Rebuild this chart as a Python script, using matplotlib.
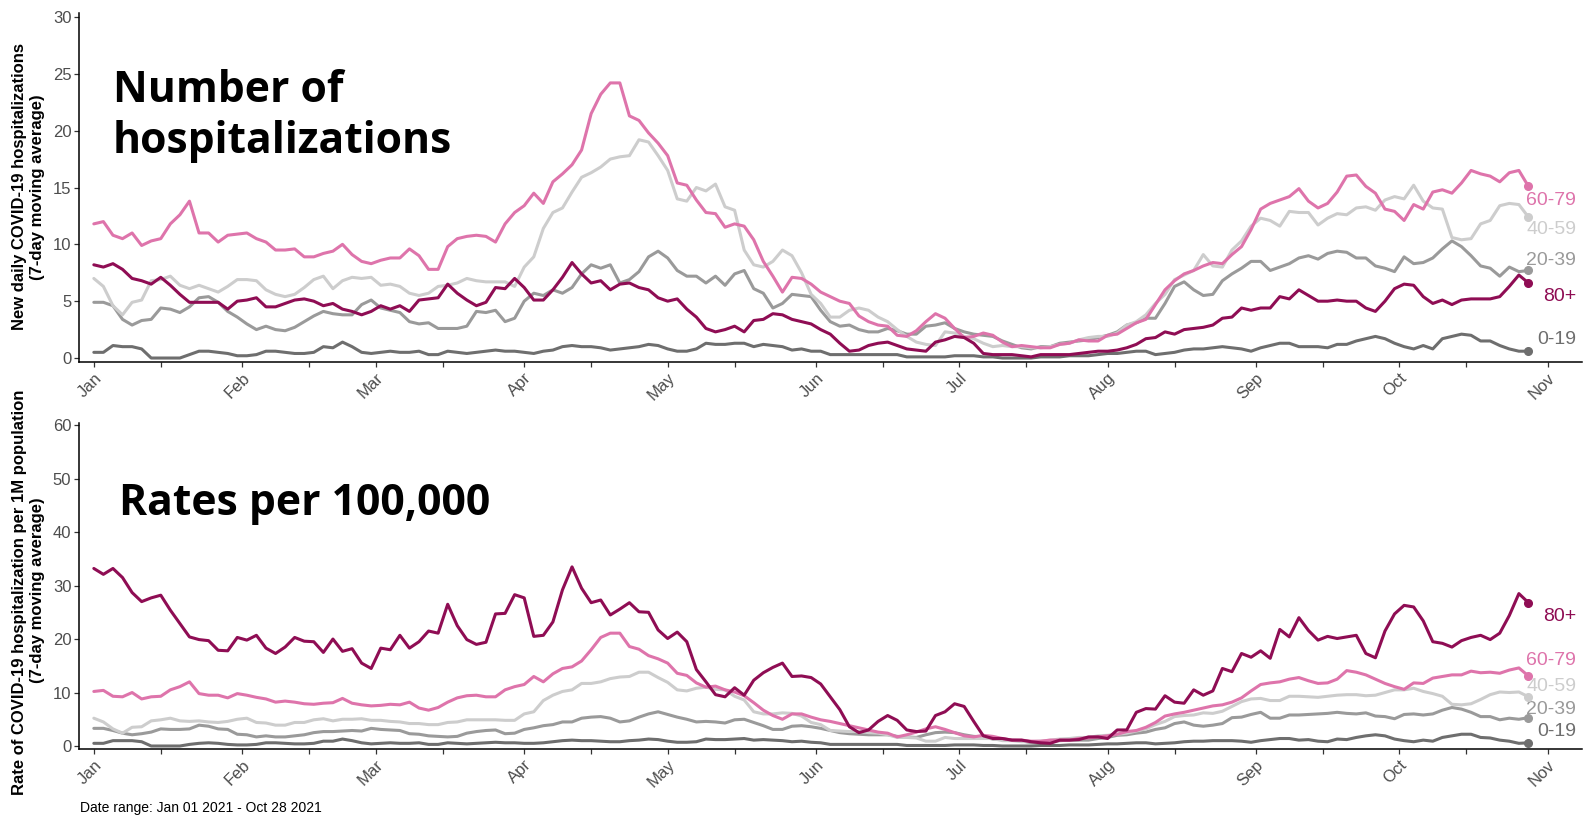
import matplotlib
matplotlib.use("Agg")
import matplotlib.pyplot as plt
import matplotlib.dates as mdates
import numpy as np
import pandas as pd
from datetime import datetime

# ---------------- data (every 2nd day, Jan 01 - Oct 28 2021) ----------------
dates = pd.date_range("2021-01-01", "2021-10-28", freq="2D")
groups = ["0-19", "20-39", "40-59", "60-79", "80+"]

# New daily hospitalizations (7-day moving average)
top_0_19 = [0.5, 0.5, 1.1, 1.0, 1.0, 0.8, 0.0, 0.0, 0.0, 0.0,
            0.3, 0.6, 0.6, 0.5, 0.4, 0.2, 0.2, 0.3, 0.6, 0.6,
            0.5, 0.4, 0.4, 0.5, 1.0, 0.9, 1.4, 1.0, 0.5, 0.4,
            0.5, 0.6, 0.5, 0.5, 0.6, 0.3, 0.3, 0.6, 0.5, 0.4,
            0.5, 0.6, 0.7, 0.6, 0.6, 0.5, 0.4, 0.6, 0.7, 1.0,
            1.1, 1.0, 1.0, 0.9, 0.7, 0.8, 0.9, 1.0, 1.2, 1.1,
            0.8, 0.6, 0.6, 0.8, 1.3, 1.2, 1.2, 1.3, 1.3, 1.0,
            1.2, 1.1, 1.0, 0.7, 0.8, 0.6, 0.6, 0.3, 0.3, 0.3,
            0.3, 0.3, 0.3, 0.3, 0.3, 0.1, 0.1, 0.1, 0.1, 0.1,
            0.2, 0.2, 0.2, 0.1, 0.1, 0.0, 0.0, 0.0, 0.0, 0.1,
            0.1, 0.1, 0.2, 0.2, 0.2, 0.3, 0.4, 0.4, 0.5, 0.6,
            0.6, 0.3, 0.4, 0.5, 0.7, 0.8, 0.8, 0.9, 1.0, 0.9,
            0.8, 0.6, 0.9, 1.1, 1.3, 1.3, 1.0, 1.0, 1.0, 0.9,
            1.2, 1.2, 1.5, 1.7, 1.9, 1.7, 1.3, 1.0, 0.8, 1.1,
            0.8, 1.7, 1.9, 2.1, 2.0, 1.5, 1.5, 1.1, 0.8, 0.6,
            0.6]
top_20_39 = [4.9, 4.9, 4.6, 3.4, 2.9, 3.3, 3.4, 4.4, 4.3, 4.0,
             4.5, 5.3, 5.4, 4.9, 4.1, 3.6, 3.0, 2.5, 2.8, 2.5,
             2.4, 2.7, 3.2, 3.7, 4.1, 3.9, 3.8, 3.8, 4.7, 5.1,
             4.4, 4.2, 4.0, 3.2, 3.0, 3.1, 2.6, 2.6, 2.6, 2.8,
             4.1, 4.0, 4.2, 3.2, 3.5, 5.0, 5.7, 5.5, 6.0, 5.7,
             6.2, 7.4, 8.2, 7.9, 8.2, 6.6, 6.9, 7.6, 8.9, 9.4,
             8.8, 7.7, 7.2, 7.2, 6.6, 7.2, 6.4, 7.4, 7.7, 6.1,
             5.7, 4.4, 4.8, 5.6, 5.5, 5.4, 4.2, 3.2, 2.8, 2.9,
             2.5, 2.3, 2.3, 2.6, 2.4, 2.1, 2.1, 2.8, 2.9, 3.1,
             2.6, 2.3, 2.1, 2.0, 1.9, 1.5, 1.2, 0.9, 0.8, 1.0,
             1.0, 1.3, 1.4, 1.5, 1.6, 1.8, 2.0, 2.3, 2.9, 3.1,
             3.5, 3.5, 4.8, 6.3, 6.7, 6.0, 5.5, 5.6, 6.8, 7.4,
             7.9, 8.5, 8.5, 7.7, 8.0, 8.3, 8.8, 9.0, 8.7, 9.2,
             9.4, 9.3, 8.8, 8.8, 8.1, 7.9, 7.6, 8.9, 8.3, 8.4,
             8.8, 9.6, 10.3, 9.8, 9.0, 8.1, 7.9, 7.2, 8.0, 7.6,
             7.7]
top_40_59 = [7.0, 6.3, 4.6, 3.8, 4.9, 5.1, 6.8, 6.9, 7.2, 6.4,
             6.1, 6.4, 6.1, 5.8, 6.3, 6.9, 6.9, 6.8, 6.0, 5.6,
             5.4, 5.6, 6.2, 6.9, 7.2, 6.1, 6.8, 7.1, 7.0, 7.1,
             6.4, 6.5, 6.3, 5.7, 5.5, 5.7, 6.3, 6.4, 6.6, 7.0,
             6.8, 6.7, 6.7, 6.7, 6.3, 8.0, 8.9, 11.4, 12.8, 13.2,
             14.6, 15.9, 16.3, 16.8, 17.5, 17.7, 17.8, 19.2, 19.0, 17.8,
             16.5, 14.0, 13.8, 15.0, 14.7, 15.3, 13.3, 13.0, 9.5, 8.2,
             8.0, 8.5, 9.5, 9.0, 7.5, 5.6, 4.8, 3.6, 3.6, 4.2,
             4.4, 4.2, 3.6, 3.2, 2.5, 1.9, 1.4, 1.2, 1.1, 2.3,
             2.2, 1.9, 1.7, 1.3, 1.0, 1.1, 1.0, 1.0, 0.9, 0.9,
             1.0, 1.2, 1.3, 1.6, 1.8, 1.9, 1.9, 2.2, 2.9, 3.2,
             3.8, 4.8, 5.6, 6.9, 7.3, 7.7, 9.1, 8.1, 8.0, 9.5,
             10.3, 11.6, 12.3, 12.1, 11.6, 12.9, 12.8, 12.8, 11.7, 12.3,
             12.7, 12.6, 13.2, 13.3, 13.0, 13.9, 14.2, 14.0, 15.2, 13.8,
             13.2, 13.1, 10.6, 10.4, 10.5, 11.8, 12.1, 13.4, 13.6, 13.5,
             12.4]
top_60_79 = [11.8, 12.0, 10.8, 10.5, 11.0, 9.9, 10.3, 10.5, 11.8, 12.6,
             13.8, 11.0, 11.0, 10.2, 10.8, 10.9, 11.0, 10.5, 10.2, 9.5,
             9.5, 9.6, 8.9, 8.9, 9.2, 9.4, 10.0, 9.1, 8.5, 8.3,
             8.6, 8.8, 8.8, 9.6, 9.0, 7.8, 7.8, 9.8, 10.5, 10.7,
             10.8, 10.7, 10.2, 11.8, 12.8, 13.4, 14.5, 13.6, 15.5, 16.2,
             17.0, 18.3, 21.5, 23.2, 24.2, 24.2, 21.3, 20.9, 19.8, 18.9,
             17.8, 15.4, 15.2, 13.9, 12.8, 12.7, 11.5, 11.8, 11.6, 10.4,
             8.5, 7.2, 5.8, 7.1, 7.0, 6.5, 5.8, 5.4, 5.0, 4.8,
             3.7, 3.2, 2.9, 2.8, 2.0, 1.9, 2.4, 3.2, 3.9, 3.5,
             2.6, 1.8, 1.9, 2.2, 2.0, 1.4, 1.0, 1.1, 1.0, 0.9,
             0.9, 1.2, 1.3, 1.6, 1.5, 1.5, 2.0, 2.1, 2.6, 3.1,
             3.4, 4.7, 6.0, 6.8, 7.4, 7.7, 8.1, 8.4, 8.3, 9.1,
             9.8, 11.3, 13.1, 13.6, 13.9, 14.2, 14.9, 13.8, 13.2, 13.6,
             14.6, 16.0, 16.1, 15.1, 14.5, 13.1, 12.9, 12.1, 13.5, 13.1,
             14.6, 14.8, 14.5, 15.4, 16.5, 16.2, 16.0, 15.5, 16.3, 16.5,
             15.1]
top_80p = [8.2, 8.0, 8.3, 7.8, 7.0, 6.8, 6.5, 7.1, 6.4, 5.6,
           4.9, 4.9, 4.9, 4.9, 4.3, 5.0, 5.1, 5.3, 4.5, 4.5,
           4.8, 5.1, 5.2, 5.0, 4.6, 4.8, 4.3, 4.1, 3.8, 4.1,
           4.6, 4.3, 4.6, 4.1, 5.1, 5.2, 5.3, 6.5, 5.7, 5.1,
           4.6, 4.9, 6.2, 6.1, 7.0, 6.2, 5.1, 5.1, 6.0, 7.1,
           8.4, 7.4, 6.6, 6.8, 6.0, 6.5, 6.6, 6.2, 6.0, 5.3,
           5.0, 5.2, 4.3, 3.6, 2.6, 2.3, 2.5, 2.8, 2.3, 3.3,
           3.4, 3.9, 3.8, 3.4, 3.2, 3.0, 2.5, 2.1, 1.3, 0.6,
           0.7, 1.1, 1.3, 1.4, 1.1, 0.8, 0.7, 0.6, 1.4, 1.6,
           1.9, 1.8, 1.3, 0.4, 0.3, 0.3, 0.3, 0.2, 0.1, 0.3,
           0.3, 0.3, 0.3, 0.4, 0.5, 0.6, 0.6, 0.7, 0.9, 1.2,
           1.7, 1.8, 2.3, 2.1, 2.5, 2.6, 2.7, 2.9, 3.5, 3.6,
           4.4, 4.2, 4.4, 4.4, 5.4, 5.2, 6.0, 5.5, 5.0, 5.0,
           5.1, 5.0, 5.0, 4.4, 4.1, 5.0, 6.1, 6.5, 6.4, 5.4,
           4.8, 5.1, 4.7, 5.1, 5.2, 5.2, 5.2, 5.4, 6.3, 7.3,
           6.6]

# Rate per 1M population (7-day moving average)
bot_0_19 = [0.5, 0.5, 1.0, 1.0, 1.0, 0.8, 0.0, 0.0, 0.0, 0.0,
            0.3, 0.5, 0.6, 0.5, 0.3, 0.2, 0.2, 0.3, 0.6, 0.6,
            0.5, 0.4, 0.4, 0.5, 0.9, 0.9, 1.3, 1.0, 0.6, 0.4,
            0.5, 0.6, 0.5, 0.5, 0.6, 0.3, 0.3, 0.6, 0.5, 0.4,
            0.5, 0.6, 0.7, 0.6, 0.6, 0.5, 0.5, 0.6, 0.8, 1.0,
            1.1, 1.0, 1.0, 0.9, 0.8, 0.8, 1.0, 1.1, 1.3, 1.2,
            0.9, 0.7, 0.7, 0.8, 1.3, 1.2, 1.2, 1.3, 1.4, 1.1,
            1.2, 1.1, 1.0, 0.8, 0.9, 0.7, 0.6, 0.3, 0.3, 0.3,
            0.3, 0.3, 0.3, 0.3, 0.3, 0.1, 0.1, 0.1, 0.1, 0.1,
            0.2, 0.2, 0.2, 0.1, 0.1, 0.0, 0.0, 0.0, 0.0, 0.1,
            0.1, 0.1, 0.2, 0.2, 0.2, 0.3, 0.4, 0.4, 0.5, 0.6,
            0.6, 0.4, 0.5, 0.6, 0.8, 0.9, 0.9, 1.0, 1.0, 1.0,
            0.9, 0.7, 1.0, 1.2, 1.4, 1.4, 1.1, 1.2, 0.9, 0.8,
            1.3, 1.2, 1.6, 1.9, 2.1, 1.9, 1.3, 1.0, 0.8, 1.1,
            0.9, 1.6, 1.9, 2.2, 2.2, 1.6, 1.5, 1.1, 0.9, 0.5,
            0.6]
bot_20_39 = [3.3, 3.3, 2.9, 2.4, 2.1, 2.3, 2.6, 3.2, 3.1, 3.1,
             3.2, 3.9, 3.7, 3.2, 3.1, 2.2, 2.1, 1.7, 1.9, 1.7,
             1.7, 1.9, 2.1, 2.5, 2.7, 2.7, 2.8, 2.9, 2.8, 3.3,
             3.1, 3.0, 2.9, 2.3, 2.2, 1.9, 1.8, 1.7, 1.8, 2.4,
             2.7, 2.9, 3.0, 2.3, 2.4, 3.1, 3.4, 3.8, 4.0, 4.5,
             4.5, 5.2, 5.4, 5.5, 5.2, 4.5, 4.7, 5.4, 6.0, 6.4,
             5.9, 5.4, 5.0, 4.5, 4.6, 4.5, 4.3, 4.9, 5.0, 4.4,
             3.8, 3.1, 3.1, 3.7, 3.8, 3.6, 3.3, 2.9, 2.5, 2.3,
             2.2, 2.1, 2.1, 2.1, 1.8, 1.7, 1.6, 2.1, 2.5, 2.6,
             2.5, 2.1, 1.8, 1.7, 1.3, 1.3, 1.1, 1.0, 0.6, 0.7,
             0.8, 1.0, 1.1, 1.1, 1.1, 1.4, 1.6, 2.0, 2.1, 2.4,
             2.6, 3.1, 3.4, 4.2, 4.5, 3.9, 3.7, 3.9, 4.2, 5.3,
             5.4, 5.9, 6.3, 5.2, 5.2, 5.8, 5.8, 5.9, 6.0, 6.1,
             6.3, 6.1, 6.0, 6.2, 5.6, 5.5, 5.1, 5.9, 6.0, 5.8,
             6.0, 6.7, 7.2, 6.9, 6.3, 5.5, 5.5, 4.9, 5.2, 5.0,
             5.3]
bot_40_59 = [5.2, 4.5, 3.2, 2.4, 3.5, 3.6, 4.7, 4.9, 5.2, 4.7,
             4.6, 4.7, 4.5, 4.4, 4.6, 5.0, 5.2, 4.4, 4.3, 3.9,
             3.9, 4.4, 4.4, 4.9, 5.1, 4.7, 5.0, 5.0, 5.1, 4.8,
             4.8, 4.6, 4.5, 4.2, 4.2, 4.0, 4.0, 4.4, 4.5, 4.9,
             4.9, 4.9, 4.9, 4.8, 4.8, 6.0, 6.4, 8.5, 9.5, 10.2,
             10.5, 11.7, 11.7, 12.0, 12.6, 12.9, 13.0, 13.8, 13.8, 12.8,
             11.9, 10.5, 10.3, 10.8, 11.0, 10.6, 10.5, 9.3, 8.6, 6.4,
             6.0, 6.0, 6.2, 6.1, 5.6, 4.4, 4.0, 2.9, 2.8, 2.7,
             2.7, 2.5, 2.4, 2.1, 1.6, 1.6, 1.5, 0.9, 0.9, 1.6,
             1.4, 1.4, 1.4, 1.4, 1.4, 1.0, 1.0, 0.8, 0.8, 0.9,
             1.1, 1.3, 1.4, 1.6, 1.6, 1.9, 2.0, 2.2, 2.4, 2.8,
             3.2, 4.0, 4.6, 5.5, 5.7, 5.8, 6.2, 6.1, 6.5, 7.4,
             8.3, 8.8, 8.9, 8.5, 8.5, 9.3, 9.3, 9.2, 9.1, 9.3,
             9.5, 9.6, 9.6, 9.4, 9.5, 10.0, 10.5, 10.5, 10.8, 10.2,
             9.8, 9.3, 7.8, 7.7, 7.9, 8.7, 9.6, 10.1, 10.0, 10.1,
             9.2]
bot_60_79 = [10.2, 10.4, 9.3, 9.2, 10.0, 8.8, 9.2, 9.3, 10.5, 11.1,
             12.0, 9.8, 9.5, 9.5, 9.0, 9.8, 9.5, 9.1, 8.8, 8.2,
             8.4, 8.2, 7.9, 7.8, 8.0, 8.1, 8.9, 8.0, 7.7, 7.5,
             7.6, 7.8, 7.7, 8.2, 7.1, 6.7, 7.2, 8.2, 9.0, 9.4,
             9.5, 9.2, 9.2, 10.5, 11.1, 11.5, 13.0, 12.0, 13.5, 14.5,
             14.8, 15.9, 18.0, 20.3, 21.1, 21.1, 18.6, 18.1, 16.9, 16.3,
             15.5, 13.6, 13.2, 11.8, 11.0, 11.2, 10.5, 10.1, 9.4, 8.1,
             6.7, 5.7, 5.0, 6.0, 6.0, 5.4, 4.9, 4.6, 4.2, 3.8,
             3.4, 3.0, 2.6, 2.4, 1.7, 2.1, 2.6, 3.2, 3.6, 3.1,
             2.5, 1.9, 1.7, 2.0, 1.8, 1.4, 1.1, 1.1, 0.9, 0.9,
             1.1, 1.1, 1.1, 1.4, 1.5, 1.7, 1.9, 2.2, 2.7, 2.9,
             3.5, 4.4, 5.6, 6.0, 6.3, 6.7, 7.1, 7.5, 7.7, 8.2,
             9.0, 10.3, 11.5, 11.8, 12.0, 12.5, 12.8, 12.2, 11.7, 11.8,
             12.5, 14.1, 13.8, 13.3, 12.5, 11.7, 11.1, 10.6, 11.8, 11.7,
             12.7, 13.0, 13.3, 13.3, 14.0, 13.7, 13.8, 13.6, 14.2, 14.6,
             13.1]
bot_80p = [33.2, 32.1, 33.2, 31.5, 28.7, 27.0, 27.7, 28.2, 25.4, 22.9,
           20.4, 19.9, 19.7, 17.9, 17.8, 20.3, 19.8, 20.7, 18.3, 17.3,
           18.5, 20.3, 19.6, 19.5, 17.5, 20.0, 17.7, 18.2, 15.5, 14.5,
           18.3, 18.0, 20.7, 18.3, 19.5, 21.5, 21.1, 26.5, 22.5, 19.9,
           19.0, 19.4, 24.7, 24.8, 28.3, 27.7, 20.5, 20.7, 23.2, 29.2,
           33.5, 29.5, 26.8, 27.3, 24.5, 25.6, 26.8, 25.1, 25.0, 21.7,
           20.1, 21.3, 19.5, 14.3, 12.0, 9.6, 9.2, 10.9, 9.5, 12.3,
           13.7, 14.7, 15.5, 13.0, 13.1, 12.8, 11.6, 9.2, 6.8, 3.6,
           2.5, 3.0, 4.6, 5.7, 4.8, 3.0, 2.7, 2.8, 5.7, 6.4,
           7.9, 7.4, 4.6, 1.9, 1.4, 1.4, 1.1, 1.1, 0.8, 0.6,
           0.5, 1.1, 1.1, 1.2, 1.7, 1.7, 1.4, 3.0, 3.0, 6.3,
           7.0, 6.9, 9.4, 8.2, 8.0, 10.5, 9.5, 10.3, 14.5, 13.9,
           17.3, 16.6, 17.8, 16.4, 21.8, 20.4, 24.0, 21.6, 19.8, 20.5,
           20.1, 20.4, 20.7, 17.3, 16.5, 21.5, 24.7, 26.3, 26.0, 23.4,
           19.5, 19.2, 18.5, 19.7, 20.3, 20.7, 19.9, 21.1, 24.4, 28.5,
           26.8]

top_series = [top_0_19, top_20_39, top_40_59, top_60_79, top_80p]
bot_series = [bot_0_19, bot_20_39, bot_40_59, bot_60_79, bot_80p]

# label placement (layout, not data)
top_label_y = [1.6, 8.6, 11.3, 13.9, 5.4]
bot_label_y = [2.7, 6.9, 11.2, 15.9, 24.2]

colors = ["#6e6e6e", "#9a9a9a", "#cdcdcd", "#de74ab", "#8f0d54"]

# ---------------- figure ----------------
W, H = 1583, 818
fig = plt.figure(figsize=(W / 100, H / 100), dpi=100)
fig.patch.set_facecolor("white")

ax1 = fig.add_axes([79 / W, 1 - 362 / H, (1582 - 79) / W, (362 - 13) / H])
ax2 = fig.add_axes([79 / W, 1 - 749 / H, (1582 - 79) / W, (749 - 423) / H])

t0 = mdates.date2num(datetime(2021, 1, 1))
label_x = t0 + 310
month_starts = [datetime(2021, m, 1) for m in range(1, 12)]
mid_months = [datetime(2021, m, 15) for m in range(1, 11)]

tickfont = dict(family="Liberation Sans", size=12)

def style(ax, ylim, yticks, series, label_y):
    xd = mdates.date2num(dates.to_pydatetime())
    for vals, col, lab, ly in zip(series, colors, groups, label_y):
        ax.plot(xd, vals, color=col, lw=2.2, solid_joinstyle="round",
                solid_capstyle="round", zorder=3)
        ax.plot(xd[-1], vals[-1], "o", color=col, ms=5.5, zorder=4)
        ax.text(label_x, ly, lab, color=col, ha="right", va="center",
                family="Liberation Sans", fontsize=14)
    ax.set_xlim(t0 - 3.1, t0 + 311.2)
    ax.set_ylim(*ylim)
    ax.set_yticks(yticks)
    ax.set_yticklabels([str(v) for v in yticks], **tickfont, color="#4d4d4d")
    ax.set_xticks(mdates.date2num(month_starts))
    ax.set_xticks(mdates.date2num(mid_months), minor=True)
    ax.set_xticklabels([d.strftime("%b") for d in month_starts], rotation=45,
                       ha="right", va="top", rotation_mode="anchor",
                       **tickfont, color="#4d4d4d")
    for s in ["top", "right"]:
        ax.spines[s].set_visible(False)
    for s in ["left", "bottom"]:
        ax.spines[s].set_color("black")
        ax.spines[s].set_linewidth(1.1)
    ax.tick_params(axis="both", which="both", direction="out", length=3.5,
                   width=0.9, color="#333333")
    ax.tick_params(axis="x", which="major", pad=2.5)
    ax.tick_params(axis="y", pad=2)
    ax.set_facecolor("white")

style(ax1, (-0.35, 30.35), [0, 5, 10, 15, 20, 25, 30], top_series, top_label_y)
style(ax2, (-0.56, 60.4), [0, 10, 20, 30, 40, 50, 60], bot_series, bot_label_y)

# y-axis titles
ylab_kw = dict(rotation=90, ha="center", va="center", fontsize=12,
               fontweight="bold", family="Liberation Sans", color="black")
fig.text(20 / W, 1 - 187 / H, "New daily COVID-19 hospitalizations", **ylab_kw)
fig.text(38 / W, 1 - 187 / H, "(7-day moving average)", **ylab_kw)
fig.text(20 / W, 1 - 592 / H, "Rate of COVID-19 hospitalization per 1M population", **ylab_kw)
fig.text(38 / W, 1 - 590 / H, "(7-day moving average)", **ylab_kw)

# overlay headings
big = dict(family="Open Sans", fontweight="bold", fontsize=30.7, color="black",
           ha="left", va="baseline")
fig.text(113 / W, 1 - 102 / H, "Number of", **big)
fig.text(113 / W, 1 - 153 / H, "hospitalizations", **big)
fig.text(119 / W, 1 - 515 / H, "Rates per 100,000", **big)

fig.text(80 / W, 1 - 808 / H, "Date range: Jan 01 2021 - Oct 28 2021",
         family="Liberation Sans", fontsize=10, color="black",
         ha="left", va="center")

fig.savefig("out.png", dpi=100, facecolor="white")
